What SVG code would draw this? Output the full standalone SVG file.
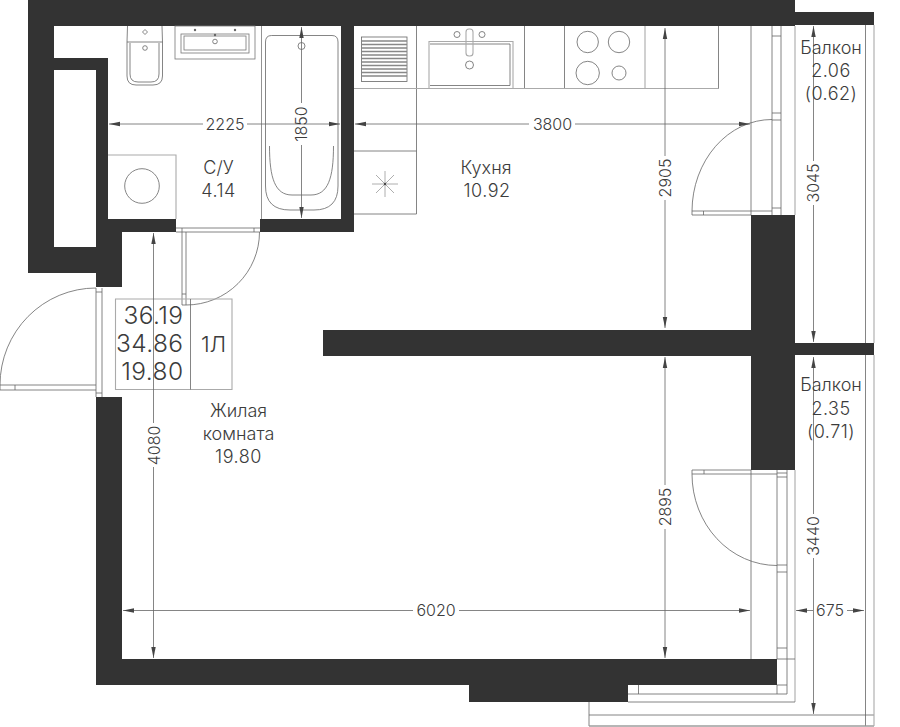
<svg xmlns="http://www.w3.org/2000/svg" width="900" height="727" viewBox="0 0 900 727">
<style>
text{font-family:"Inter","Liberation Sans",sans-serif;font-weight:300;fill:#3c3c3c;text-anchor:middle}
.l{font-size:18px}
.n{font-size:18px;letter-spacing:.5px}
.d{font-size:16px}
.b{font-size:24.500px;letter-spacing:.4px;text-anchor:end}
.w{fill:#333;stroke:none}
.t{fill:none;stroke:#666;stroke-width:.8}
.g{fill:none;stroke:#aaa;stroke-width:1.1}
.m{fill:none;stroke:#777;stroke-width:.8}
.e{marker-end:url(#a)}
</style>
<defs>
<marker id="a" markerUnits="userSpaceOnUse" markerWidth="12" markerHeight="6" refX="11" refY="3" orient="auto"><path d="M0 0.800L11 3L0 5.200z" fill="#444"/></marker>
</defs>
<rect width="900" height="727" fill="#fff"/>
<g id="walls">
<path class="w" d="M28 0H795V26H354V232H260V219H341V26H54V58H108V219H176V232H122V287H96V273H28ZM54 70V247H96V70Z" fill-rule="evenodd"/>
<rect class="w" x="795" y="12" width="79" height="13"/>
<path class="w" d="M323 330H751V215H795V343H874V355H795V470H751V356H323Z"/>
<path class="w" d="M96 397H122V659H777V685H628V702H469V685H96Z"/>
</g>
<g id="balconies">
<path class="t" d="M865.500 25V343M865.500 355V726M589 702V726M589 715H874M589 726H874"/>
<path class="g" d="M874 25V343M874 355V726M589 726H874M795 26V215M795 470V702"/>
<path class="t" d="M751 26V215M772 26V215M781 26V215M772 36H781M772 113H781M772 120H781M772 208H781"/>
<path class="t" d="M751 470V659M777 470V659M787 470V694M777 473H787M777 477H787M777 565H787M777 572H787M777 648H787M777 659H795M777 685V694M787 685H777M628 694H787M628 702H795M638.500 685V694"/>
</g>
<g id="doors">
<path class="t" d="M772 119.500A80 92 0 0 0 692 211"/>
<path class="t" d="M692 211H772M692 215H751M692 211V215M703.500 211V215"/>
<path class="t" d="M692 470H751M692 474H777M692 470V474M704 470V474M692 474A85 91.500 0 0 0 777 565.500"/>
<path class="t" d="M96 288V397M102 288V397M96 292H102M96 393H102"/>
<path class="t" d="M0 385H96M0 390H96M0 385V390M15 385V390M0 385A96 97 0 0 1 96 288"/>
<path class="t" d="M176 228H260M176 232H260M182 228V232M254 228V232"/>
<path class="t" d="M182 232V305H186V232M182 294H186M186 305A73.500 73 0 0 0 259.500 232"/>
</g>
<g id="bathroom">
<path class="t" d="M127.500 26 127 42H162.500L162 26M127 42V76Q127 85 136 85H153Q162.500 85 162.500 76V42M130 43V74Q130 82 138 82H151Q159 82 159 74V43"/>
<circle class="t" cx="145" cy="48" r="2.300"/>
<path class="t" d="M145 29.500 147.500 32 145 34.500 142.500 32Z"/>
<rect class="m" x="175" y="26" width="80" height="33"/>
<rect class="m" x="181" y="34" width="68" height="19"/>
<rect class="m" x="184" y="36" width="62" height="14"/>
<circle class="t" cx="215" cy="41.500" r="2.300"/>
<circle cx="195" cy="30" r="1.200" fill="#666"/><circle cx="235" cy="30" r="1.200" fill="#666"/><circle cx="215" cy="35" r="1.200" fill="#666"/>
<path class="m" d="M261.500 26V219"/>
<path class="t" d="M271.500 35.500H332Q338 35.500 338 42V186Q338 210 314 210H290Q265.500 210 265.500 186V42Q265.500 35.500 271.500 35.500Z"/>
<path class="t" d="M269.500 146C269.500 178 275 195 292 195H311C328 195 333.500 178 333.500 146"/>
<circle class="t" cx="301.500" cy="46" r="3.500"/>
<path class="g" d="M108 155H176V219"/>
<circle class="t" cx="142" cy="186" r="17.300"/>
</g>
<g id="kitchen">
<path class="t" d="M354 88.500H718.500V26M416.500 26V214H354M354 151H416.500M524.500 26V88.500M564.500 26V88.500"/>
<path class="g" d="M354 88.500H718.500M645 26V88.500"/>
<rect class="t" x="361.500" y="37" width="45.500" height="44.500"/>
<path d="M362 41H407M362 44.500H407M362 48H407M362 51.500H407M362 55H407M362 58.500H407M362 62H407M362 65.500H407M362 69H407M362 72.500H407M362 76H407" stroke="#888" stroke-width="1.500" fill="none"/>
<path class="g" d="M429 88.500V41.500H513V88.500"/>
<path class="t" d="M430 85.500H510V44H430"/>
<rect class="g" x="466" y="29" width="7" height="27" rx="3" fill="#fff"/>
<circle class="t" cx="457" cy="34.500" r="3"/><circle class="t" cx="482" cy="34.500" r="3"/><circle class="t" cx="469.500" cy="65" r="4"/>
<circle class="t" cx="587.700" cy="42" r="10.700"/><circle class="t" cx="619" cy="42" r="10.700"/><circle class="t" cx="587.700" cy="73" r="11.700"/><circle class="t" cx="619" cy="73" r="7"/>
<path d="M372 184H398M385 171V197M376 175 394 193M394 175 376 193" stroke="#999" stroke-width=".8" fill="none"/>
<circle cx="385" cy="184" r="1.200" fill="#444"/>
</g>
<g id="info">
<path class="g" d="M115.500 299H232V389.500H115.500Z"/>
<path class="t" d="M190.500 299V389.500"/>
</g>
<g id="connectors">
<path class="t e" d="M203 124H109"/><path class="t e" d="M247 124H340"/>
<path class="t e" d="M529 124H355"/><path class="t e" d="M575 124H750"/>
<path class="t e" d="M301.500 103V27"/><path class="t e" d="M301.500 145V218"/>
<path class="t e" d="M665 156V28"/><path class="t e" d="M665 200V328"/>
<path class="t e" d="M665 485V357"/><path class="t e" d="M665 529V658"/>
<path class="t e" d="M813.500 161V26"/><path class="t e" d="M813.500 205V342"/>
<path class="t e" d="M813.500 514V357"/><path class="t e" d="M813.500 558V714"/>
<path class="t e" d="M153.500 423V233"/><path class="t e" d="M153.500 467V658"/>
<path class="t e" d="M413 610.500H123"/><path class="t e" d="M459 610.500H750"/>
<path class="t e" d="M813 610.500H796"/><path class="t e" d="M847 610.500H864"/>
</g>
<g id="labels">
<text class="l" x="218.500" y="174">С/У</text><text class="n" x="218.500" y="197">4.14</text>
<text class="l" x="486" y="174">Кухня</text><text class="n" x="487" y="197">10.92</text>
<text class="l" x="831" y="54">Балкон</text><text class="n" x="831" y="77">2.06</text><text class="n" x="831" y="100">(0.62)</text>
<text class="l" x="831" y="391">Балкон</text><text class="n" x="831" y="415">2.35</text><text class="n" x="831" y="438">(0.71)</text>
<text class="l" x="238.500" y="417">Жилая</text><text class="l" x="238.500" y="440">комната</text><text class="n" x="238.500" y="463">19.80</text>
<text class="b" x="183.500" y="324">36.19</text>
<text class="b" x="183.500" y="352">34.86</text>
<text class="b" x="183.500" y="380">19.80</text>
<text x="213.500" y="352" style="font-size:22px">1Л</text>
<text class="d" x="225" y="130">2225</text>
<text class="d" x="552.500" y="130">3800</text>
<text class="d" x="436" y="616">6020</text>
<text class="d" x="830" y="616">675</text>
<text class="d" transform="translate(307 124) rotate(-90)">1850</text>
<text class="d" transform="translate(671 178) rotate(-90)">2905</text>
<text class="d" transform="translate(671 507) rotate(-90)">2895</text>
<text class="d" transform="translate(819 183) rotate(-90)">3045</text>
<text class="d" transform="translate(819 536) rotate(-90)">3440</text>
<text class="d" transform="translate(159.500 445.500) rotate(-90)">4080</text>
</g>
</svg>
